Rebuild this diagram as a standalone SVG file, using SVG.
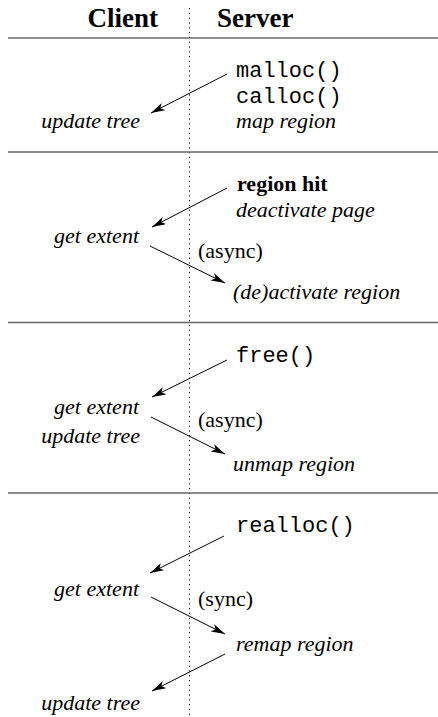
<svg xmlns="http://www.w3.org/2000/svg" width="438" height="717" viewBox="0 0 438 717">
<style>
text { font-family: "Liberation Serif", "Times New Roman", serif; font-size: 22px; fill: #000; }
.hdr { font-weight: bold; font-size: 27px; }
.mono { font-family: "Liberation Mono", "Courier New", monospace; font-size: 22px; }
.it { font-style: italic; }
.b { font-weight: bold; }
.cl { text-anchor: end; }
.rule1 { stroke: #222; stroke-width: 1.2; }
.rule { stroke: #666; stroke-width: 1.4; }
.div { stroke: #000; stroke-width: 1; stroke-dasharray: 1.2 3.6; }
.arr { stroke: #000; stroke-width: 1; fill: none; marker-end: url(#ah); }
</style>
<defs>
<marker id="ah" viewBox="0 0 14 8" refX="14" refY="4" markerWidth="14" markerHeight="8" markerUnits="userSpaceOnUse" orient="auto">
<path d="M0,0 L14,4 L0,8 L3.5,4 z" fill="#000"/>
</marker>
</defs>
<rect width="438" height="717" fill="#fff"/>
<g id="frame">
<line class="div" x1="189.5" y1="8" x2="189.5" y2="717"/>
<line class="rule1" x1="8" y1="38" x2="438" y2="38"/>
<line class="rule" x1="8" y1="152" x2="438" y2="152"/>
<line class="rule" x1="8" y1="322.5" x2="438" y2="322.5"/>
<line class="rule" x1="8" y1="493" x2="438" y2="493"/>
</g>
<g id="header-client"><text class="hdr" x="158" y="27" text-anchor="end">Client</text></g>
<g id="header-server"><text class="hdr" x="217" y="27">Server</text></g>

<g id="s1-server">
<text class="mono" x="236" y="77">malloc()</text>
<text class="mono" x="236" y="103">calloc()</text>
<text class="it" x="236" y="128">map region</text>
</g>
<g id="s1-client"><text class="it cl" x="140" y="128">update tree</text></g>

<g id="s2-server1">
<text class="b" x="237" y="191">region hit</text>
<text class="it" x="236" y="217">deactivate page</text>
</g>
<g id="s2-client"><text class="it cl" x="139" y="243">get extent</text></g>
<g id="s2-note"><text x="198" y="258">(async)</text></g>
<g id="s2-server2"><text class="it" x="233" y="299">(de)activate region</text></g>

<g id="s3-server1"><text class="mono" x="236" y="362">free()</text></g>
<g id="s3-client">
<text class="it cl" x="139" y="414">get extent</text>
<text class="it cl" x="140" y="443">update tree</text>
</g>
<g id="s3-note"><text x="198" y="427">(async)</text></g>
<g id="s3-server2"><text class="it" x="233" y="471">unmap region</text></g>

<g id="s4-server1"><text class="mono" x="236" y="532">realloc()</text></g>
<g id="s4-client1"><text class="it cl" x="139" y="596">get extent</text></g>
<g id="s4-note"><text x="198" y="606">(sync)</text></g>
<g id="s4-server2"><text class="it" x="236" y="651">remap region</text></g>
<g id="s4-client2"><text class="it cl" x="140" y="710">update tree</text></g>

<g id="connectors">
<line class="arr" x1="227" y1="74" x2="151" y2="113"/>
<line class="arr" x1="227" y1="188" x2="152" y2="227"/>
<line class="arr" x1="150" y1="246" x2="225" y2="283"/>
<line class="arr" x1="227" y1="360" x2="152" y2="397"/>
<line class="arr" x1="151" y1="417" x2="225" y2="454"/>
<line class="arr" x1="224" y1="536" x2="150" y2="573"/>
<line class="arr" x1="151" y1="597" x2="225" y2="634"/>
<line class="arr" x1="225" y1="654" x2="152" y2="691"/>
</g>
</svg>
